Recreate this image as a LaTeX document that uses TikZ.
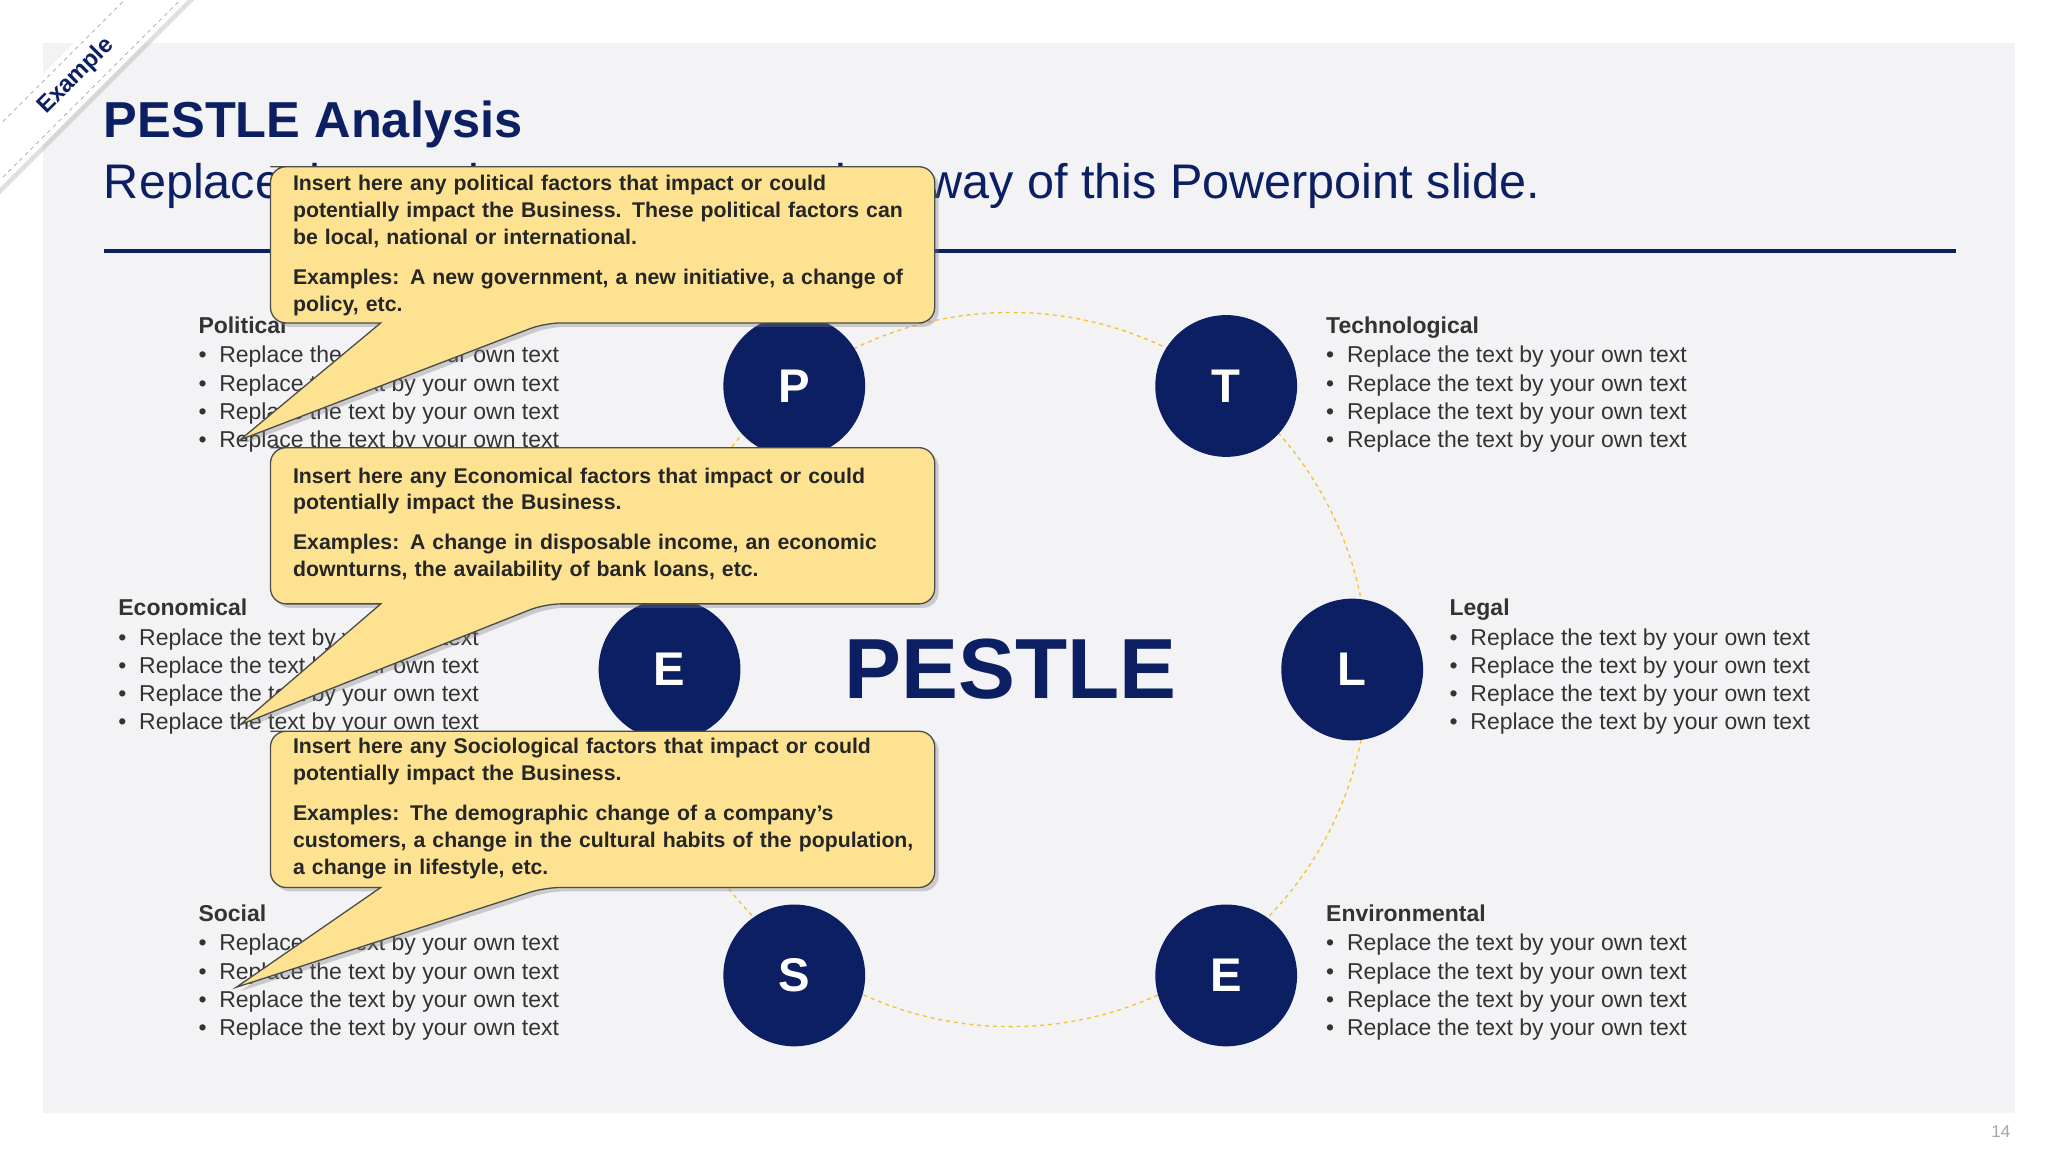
\documentclass[tikz,border=0pt]{standalone}
\usepackage{fontspec}
\setmainfont{Liberation Sans}
\usetikzlibrary{shadows}
\definecolor{navy}{HTML}{0B1F62}
\definecolor{bg}{HTML}{F3F3F5}
\definecolor{callfill}{HTML}{FDE391}
\definecolor{txt}{HTML}{333333}
\definecolor{gold}{HTML}{F2C230}
\newcommand{\nohyph}{\hyphenpenalty 10000 \exhyphenpenalty 10000 }
\tikzset{
  letter/.style={circle,fill=navy,minimum size=108pt,inner sep=0,text=white,font=\fontsize{36}{40}\selectfont\bfseries},
  block/.style={anchor=north west,inner sep=0,align=left,text=txt,font=\fontsize{17.5}{21.5}\selectfont},
  calltext/.style={anchor=north west,inner sep=0,align=left,text=black!85,text width=475pt,font=\fontsize{16.2}{20.5}\selectfont\bfseries,execute at begin node={\nohyph}},
  callshape/.style={draw=black!70,line width=1pt,fill=callfill,rounded corners=12pt,drop shadow={opacity=0.35,shadow xshift=3pt,shadow yshift=-3pt}}
}
\newcommand{\blk}[1]{\textbf{#1}\\[1pt]
\textbullet\ \ Replace the text by your own text\\
\textbullet\ \ Replace the text by your own text\\
\textbullet\ \ Replace the text by your own text\\
\textbullet\ \ Replace the text by your own text}
\begin{document}
\begin{tikzpicture}[x=1pt,y=-1pt]
\useasboundingbox (0,0) rectangle (1560,877.5);
\fill[white] (0,0) rectangle (1560,877.5);
\fill[bg] (33,33) rectangle (1535,848);
\node[text=black!35,font=\fontsize{13}{15}\selectfont] (pg) at (1524,862) {14};
% title
\node[anchor=west,inner sep=0,text=navy,font=\fontsize{38.5}{44}\selectfont\bfseries] (title) at (79,95) {PESTLE Analysis};
\node[anchor=west,inner sep=0,text=navy,font=\fontsize{37}{42}\selectfont] (sub) at (79,142) {Replace the text by your own text in a way of this Powerpoint slide.};
\draw[navy,line width=3pt] (79,191) -- (1490,191);
% circle
\draw[gold,dashed,line width=1pt] (770,510) circle (272);
\node[text=navy,font=\fontsize{65}{70}\selectfont\bfseries] (pestle) at (770,510) {PESTLE};
\node[letter] (P) at (605,294) {P};
\node[letter] (T) at (934,294) {T};
\node[letter] (E1) at (510,510) {E};
\node[letter] (L) at (1030,510) {L};
\node[letter] (S) at (605,743) {S};
\node[letter] (E2) at (934,743) {E};
% blocks
\node[block] (pol) at (151,241) {\blk{Political}};
\node[block] (tec) at (1010,241) {\blk{Technological}};
\node[block] (eco) at (90,456) {\blk{Economical}};
\node[block] (leg) at (1104,456) {\blk{Legal}};
\node[block] (soc) at (151,689) {\blk{Social}};
\node[block] (env) at (1010,689) {\blk{Environmental}};
% callouts
\path[callshape] (218,127) -- (712,127) -- (712,246) -- (415,246) [sharp corners] -- (183,335) -- (290,246) [rounded corners=12pt] -- (206,246) -- (206,127) -- cycle;
\node[calltext] (c1) at (223,133) {Insert here any political factors that impact or could potentially impact the Business. These political factors can be local, national or international.\\[10pt]Examples: A new government, a new initiative, a change of policy, etc.};
\path[callshape] (218,341) -- (712,341) -- (712,460) -- (415,460) [sharp corners] -- (183,552) -- (290,460) [rounded corners=12pt] -- (206,460) -- (206,341) -- cycle;
\node[calltext] (c2) at (223,356) {Insert here any Economical factors that impact or could potentially impact the Business.\\[10pt]Examples: A change in disposable income, an economic downturns, the availability of bank loans, etc.};
\path[callshape] (218,557) -- (712,557) -- (712,676) -- (415,676) [sharp corners] -- (180,752) -- (290,676) [rounded corners=12pt] -- (206,676) -- (206,557) -- cycle;
\node[calltext] (c3) at (223,562) {Insert here any Sociological factors that impact or could potentially impact the Business.\\[10pt]Examples: The demographic change of a company’s customers, a change in the cultural habits of the population, a change in lifestyle, etc.};
% example ribbon
\begin{scope}[shift={(58,58)},rotate=45]
\fill[white,drop shadow={opacity=0.25}] (-130,-19) rectangle (130,19);
\draw[navy!50,dashed] (-130,-15) -- (130,-15) (-130,15) -- (130,15);
\node[transform shape,text=navy,font=\fontsize{18}{20}\selectfont\bfseries] (ex) at (0,0) {Example};
\end{scope}
\end{tikzpicture}
\end{document}
